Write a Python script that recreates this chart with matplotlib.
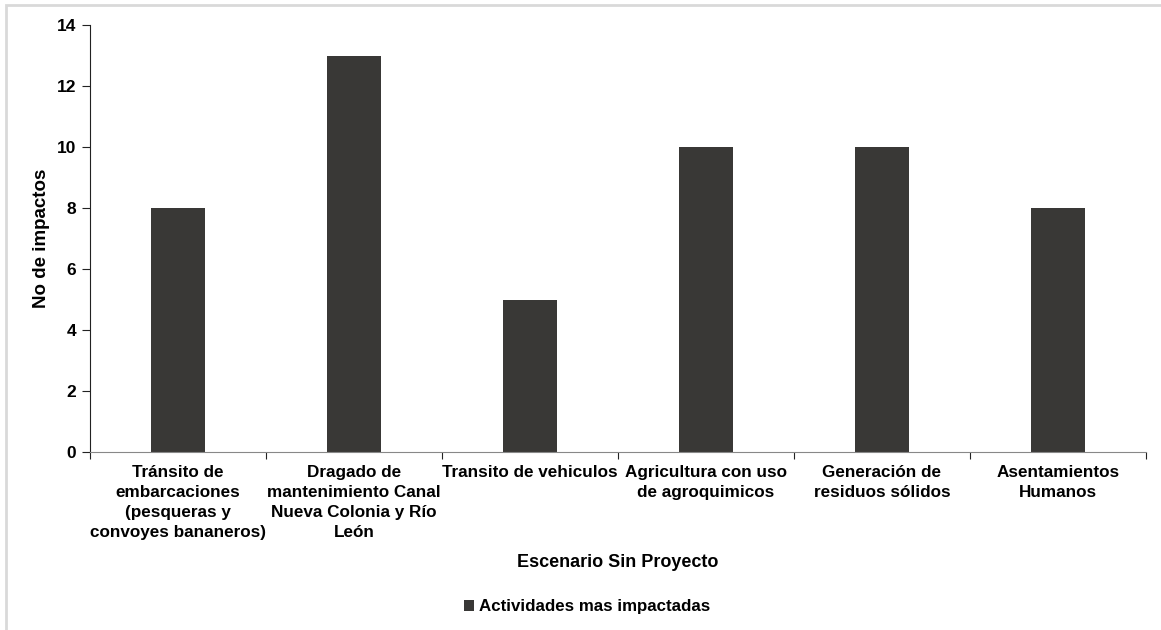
import matplotlib.pyplot as plt
from matplotlib.patches import Rectangle

categories = [
    "Tránsito de\nembarcaciones\n(pesqueras y\nconvoyes bananeros)",
    "Dragado de\nmantenimiento Canal\nNueva Colonia y Río\nLeón",
    "Transito de vehiculos",
    "Agricultura con uso\nde agroquimicos",
    "Generación de\nresiduos sólidos",
    "Asentamientos\nHumanos",
]
impactos = [8, 13, 5, 10, 10, 8]
yticks = [0, 2, 4, 6, 8, 10, 12, 14]

plt.rcParams["font.family"] = ["Liberation Sans", "DejaVu Sans"]
plt.rcParams["font.weight"] = "bold"

fig = plt.figure(figsize=(11.61, 6.30), dpi=100)
ax = fig.add_axes([0.0775, 0.2825, 0.9095, 0.6775])

# light outer frame (top and left edges visible)
fig.patches.append(Rectangle((6 / 1161, -0.1), 1.2, 1 - 5 / 630 + 0.1,
                             transform=fig.transFigure, fill=False,
                             edgecolor="#d9d9d9", linewidth=2))

x = list(range(len(categories)))
ax.bar(x, impactos, width=0.31, color="#393836", label="Actividades mas impactadas")

ax.set_xlim(-0.5, len(categories) - 0.5)
ax.set_ylim(0, 14)
ax.set_yticks(yticks)
ax.set_yticklabels([str(t) for t in yticks], fontsize=12.5, fontweight="bold")

ax.set_xticks([i - 0.5 for i in range(len(categories) + 1)])
ax.set_xticklabels([])
ax.set_xticks(x, minor=True)
ax.set_xticklabels(categories, minor=True, fontsize=12.3, fontweight="bold",
                   linespacing=1.42, va="top")
ax.tick_params(axis="x", which="minor", length=0, pad=9)
ax.tick_params(axis="x", which="major", length=5, direction="out", color="#222222")
ax.tick_params(axis="y", length=6, direction="out", pad=4, color="#222222")

for s in ["top", "right"]:
    ax.spines[s].set_visible(False)
ax.spines["left"].set_color("#222222")
ax.spines["bottom"].set_color("#888888")

ax.set_ylabel("No de impactos", fontsize=13.5, fontweight="bold", labelpad=5)
ax.set_xlabel("Escenario Sin Proyecto", fontsize=13, fontweight="bold", labelpad=10)

fig.legend(loc="center", bbox_to_anchor=(587 / 1161, 1 - 607 / 630), frameon=False,
           handlelength=0.6, handleheight=0.6, handletextpad=0.3,
           prop={"weight": "bold", "size": 12.2})

fig.savefig("out.png", dpi=100, facecolor="white")
